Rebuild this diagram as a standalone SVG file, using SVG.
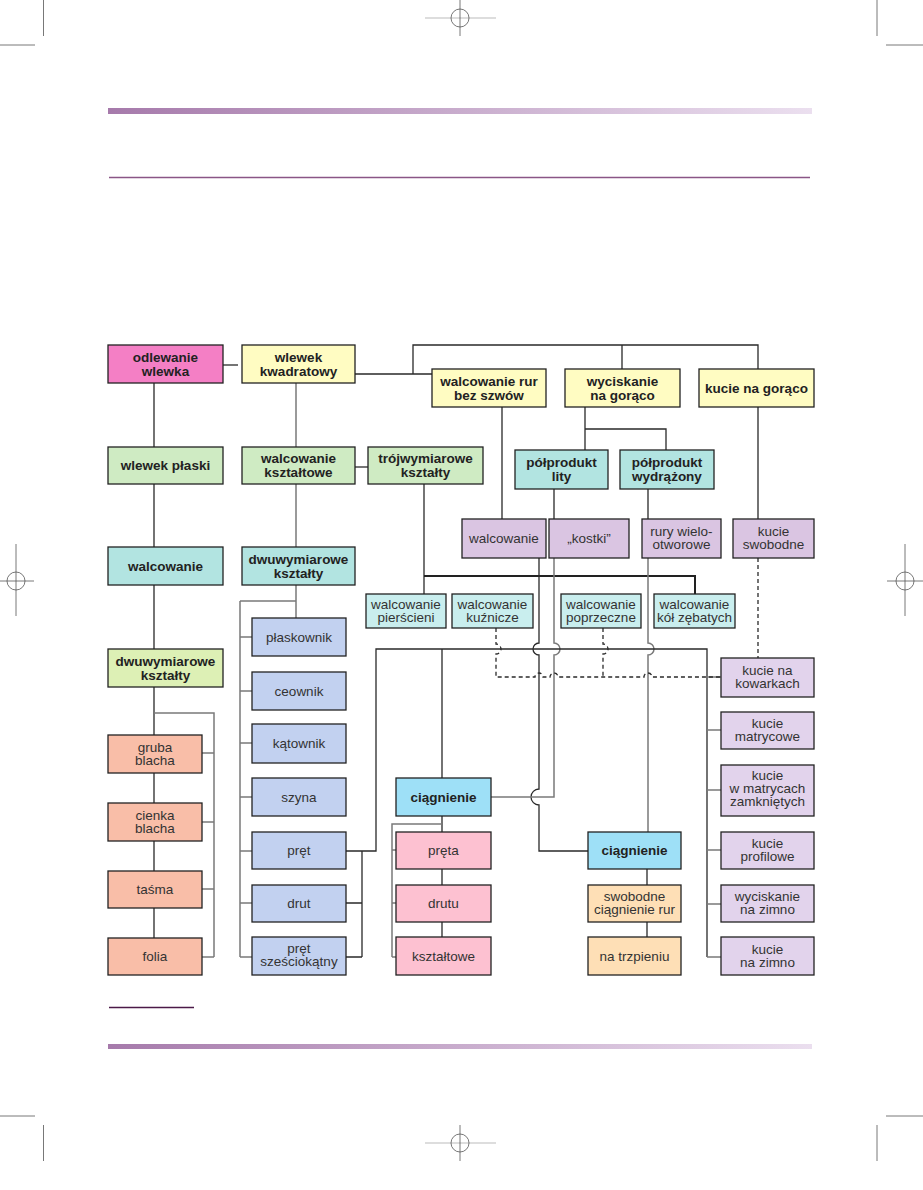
<svg xmlns="http://www.w3.org/2000/svg" width="923" height="1190" viewBox="0 0 923 1190">
<defs>
<linearGradient id="bar" x1="0" y1="0" x2="1" y2="0">
<stop offset="0" stop-color="#a67aab"/>
<stop offset="1" stop-color="#ebdfef"/>
</linearGradient>
<style>
.b{stroke:#222;stroke-width:1.3}
.tb{font-family:"Liberation Sans",Arial,sans-serif;font-weight:bold;font-size:13.5px;fill:#222;text-anchor:middle}
.tr{font-family:"Liberation Sans",Arial,sans-serif;font-size:13.5px;fill:#333;text-anchor:middle}
.c{fill:none;stroke:#2a2a2a;stroke-width:1.3}
.g{fill:none;stroke:#7a7a7a;stroke-width:1.5}
.d{fill:none;stroke:#2a2a2a;stroke-width:1.3;stroke-dasharray:4 3}
.m{fill:none;stroke:#555;stroke-width:0.8}
.pm{fill:#f47fc5}.ye{fill:#fffcc2}.gr{fill:#cfebc3}.yg{fill:#ddf0b5}.te{fill:#b2e4e1}
.pu{fill:#dac5e2}.kp{fill:#e2d3ec}.lt{fill:#c9eeee}.bl{fill:#c2d1f0}.sa{fill:#f9bea8}
.sk{fill:#9ee0f7}.pk{fill:#fdc1d1}.pe{fill:#fedfb6}
</style>
</defs>
<rect width="923" height="1190" fill="#fff"/>

<g id="decor">
<rect x="108" y="108" width="704" height="6" fill="url(#bar)"/>
<line x1="109" y1="177.5" x2="810" y2="177.5" stroke="#8a5686" stroke-width="1.3"/>
<line x1="109" y1="1007.5" x2="194" y2="1007.5" stroke="#4b1a48" stroke-width="1.3"/>
<rect x="108" y="1044" width="704" height="5" fill="url(#bar)"/>
<line class="m" x1="43.5" y1="0" x2="43.5" y2="36" stroke="#000"/>
<line class="m" x1="0" y1="45" x2="35" y2="45"/>
<line class="m" x1="877" y1="0" x2="877" y2="36"/>
<line class="m" x1="886" y1="45" x2="923" y2="45"/>
<line class="m" x1="43.5" y1="1125" x2="43.5" y2="1161"/>
<line class="m" x1="0" y1="1116" x2="35" y2="1116"/>
<line class="m" x1="877" y1="1125" x2="877" y2="1161"/>
<line class="m" x1="886" y1="1116" x2="923" y2="1116"/>
<line x1="425" y1="18" x2="496" y2="18" stroke="#ddd" stroke-width="2"/>
<line class="m" x1="460" y1="0" x2="460" y2="36"/>
<circle class="m" cx="460" cy="18" r="9"/>
<line x1="425" y1="1143" x2="496" y2="1143" stroke="#ddd" stroke-width="2"/>
<line class="m" x1="460" y1="1125" x2="460" y2="1161"/>
<circle class="m" cx="460" cy="1143" r="9"/>
<line class="m" x1="0" y1="581" x2="34" y2="581"/>
<line class="m" x1="16" y1="544" x2="16" y2="616"/>
<circle class="m" cx="16" cy="581" r="9"/>
<line class="m" x1="887" y1="581" x2="923" y2="581"/>
<line class="m" x1="905" y1="544" x2="905" y2="616"/>
<circle class="m" cx="905" cy="581" r="9"/>
</g>

<g id="connectors">
<path class="c" d="M223,365H238"/>
<path class="c" d="M154,383V447M154,484V547M154,585V649M154,687V735M154,773V803M154,841V871M154,908V938"/>
<path class="g" d="M154,713H214V957M202,753H214M202,822H214M202,889H214M202,957H214"/>
<path class="g" d="M296,383V447M296,484V547M296,585V618"/>
<path class="g" d="M240,601H296M240,601V957M240,637H252M240,691H252M240,743H252M240,797H252M240,851H252M240,903H252M240,957H252"/>
<path class="c" d="M355,467H368"/>
<path class="c" d="M355,374H432M413,374V345H758V369M622,345V369"/>
<path class="c" d="M585,407V450M585,429H666V450"/>
<path class="c" d="M502,407V519M758,407V519"/>
<path class="c" d="M424,484V594" />
<path fill="none" stroke="#222" stroke-width="2" d="M424,576H695V594"/>
<path class="c" d="M554,489V519M648,489V519"/>
<path class="c" d="M539,558V643A6,6 0 0 0 539,655V789A8,8 0 0 0 539,805V851H588"/>
<path class="g" d="M554,558V643A6,6 0 0 1 554,655V797H491"/>
<path class="g" d="M648,558V643A6,6 0 0 1 648,655V832"/>
<path class="c" d="M346,851H376V649H707V957M442,649V778"/>
<path class="g" d="M707,677H721M707,730H721M707,790H721M707,850H721M707,904H721M707,957H721"/>
<path class="c" d="M346,903H362M346,957H362M362,851V957"/>
<path class="c" d="M442,816V832M442,869V885M442,922V937"/>
<path class="g" d="M442,824H392V957M392,850H396M392,903H396M392,957H396"/>
<path class="c" d="M647,869V885M647,922V937"/>
<path class="d" d="M758,558V658"/>
<path class="d" d="M496,628V644A5,5 0 0 1 496,654V677H535A4,4 0 0 1 543,677H550A4,4 0 0 1 558,677H644A4,4 0 0 1 652,677H721"/>
<path class="d" d="M603,628V644A5,5 0 0 1 603,654V677"/>
</g>

<g id="odlewanie"><rect class="b pm" x="108" y="345" width="115" height="38"/><text class="tb" x="165.5" y="361.5">odlewanie<tspan x="165.5" dy="14">wlewka</tspan></text></g>
<g id="kwadratowy"><rect class="b ye" x="242" y="345" width="113" height="38"/><text class="tb" x="298.5" y="361.5">wlewek<tspan x="298.5" dy="14">kwadratowy</tspan></text></g>
<g id="rur"><rect class="b ye" x="432" y="369" width="114" height="38"/><text class="tb" x="489" y="385.5">walcowanie rur<tspan x="489" dy="14">bez szwów</tspan></text></g>
<g id="wyciskanie-goraco"><rect class="b ye" x="565" y="369" width="115" height="38"/><text class="tb" x="622.5" y="385.5">wyciskanie<tspan x="622.5" dy="14">na gorąco</tspan></text></g>
<g id="kucie-goraco"><rect class="b ye" x="699" y="369" width="115" height="38"/><text class="tb" x="756.5" y="392.5">kucie na gorąco</text></g>
<g id="wlewek-plaski"><rect class="b gr" x="108" y="447" width="115" height="37"/><text class="tb" x="165.5" y="470">wlewek płaski</text></g>
<g id="walc-ksztaltowe"><rect class="b gr" x="242" y="447" width="113" height="37"/><text class="tb" x="298.5" y="463">walcowanie<tspan x="298.5" dy="14">kształtowe</tspan></text></g>
<g id="trojwymiarowe"><rect class="b gr" x="368" y="447" width="115" height="37"/><text class="tb" x="425.5" y="463">trójwymiarowe<tspan x="425.5" dy="14">kształty</tspan></text></g>
<g id="lity"><rect class="b te" x="515" y="450" width="93" height="39"/><text class="tb" x="561.5" y="467">półprodukt<tspan x="561.5" dy="14">lity</tspan></text></g>
<g id="wydrazony"><rect class="b te" x="620" y="450" width="94" height="39"/><text class="tb" x="667" y="467">półprodukt<tspan x="667" dy="14">wydrążony</tspan></text></g>
<g id="walcowanie-teal"><rect class="b te" x="108" y="547" width="115" height="38"/><text class="tb" x="165.5" y="570.5">walcowanie</text></g>
<g id="dwuwym-teal"><rect class="b te" x="242" y="547" width="113" height="38"/><text class="tb" x="298.5" y="563.5">dwuwymiarowe<tspan x="298.5" dy="14">kształty</tspan></text></g>
<g id="walcowanie-rury"><rect class="b pu" x="462" y="519" width="84" height="39"/><text class="tr" x="504" y="543">walcowanie</text></g>
<g id="kostki"><rect class="b pu" x="549" y="519" width="80" height="39"/><text class="tr" x="589" y="543">„kostki”</text></g>
<g id="rury-wielo"><rect class="b pu" x="642" y="519" width="79" height="39"/><text class="tr" x="681.5" y="536">rury wielo-<tspan x="681.5" dy="13">otworowe</tspan></text></g>
<g id="kucie-swobodne"><rect class="b pu" x="733" y="519" width="81" height="39"/><text class="tr" x="773.5" y="536">kucie<tspan x="773.5" dy="13">swobodne</tspan></text></g>
<g id="pierscieni"><rect class="b lt" x="366" y="594" width="80" height="34"/><text class="tr" x="406" y="609">walcowanie<tspan x="406" dy="13">pierścieni</tspan></text></g>
<g id="kuznicze"><rect class="b lt" x="452" y="594" width="81" height="34"/><text class="tr" x="492.5" y="609">walcowanie<tspan x="492.5" dy="13">kuźnicze</tspan></text></g>
<g id="poprzeczne"><rect class="b lt" x="561" y="594" width="80" height="34"/><text class="tr" x="601" y="609">walcowanie<tspan x="601" dy="13">poprzeczne</tspan></text></g>
<g id="zebatych"><rect class="b lt" x="654" y="594" width="81" height="34"/><text class="tr" x="694.5" y="609">walcowanie<tspan x="694.5" dy="13">kół zębatych</tspan></text></g>
<g id="dwuwym-green"><rect class="b yg" x="108" y="649" width="115" height="38"/><text class="tb" x="165.5" y="665.5">dwuwymiarowe<tspan x="165.5" dy="14">kształty</tspan></text></g>
<g id="plaskownik"><rect class="b bl" x="252" y="618" width="94" height="38"/><text class="tr" x="299" y="641.5">płaskownik</text></g>
<g id="ceownik"><rect class="b bl" x="252" y="672" width="94" height="38"/><text class="tr" x="299" y="695.5">ceownik</text></g>
<g id="katownik"><rect class="b bl" x="252" y="724" width="94" height="39"/><text class="tr" x="299" y="748">kątownik</text></g>
<g id="szyna"><rect class="b bl" x="252" y="778" width="94" height="38"/><text class="tr" x="299" y="801.5">szyna</text></g>
<g id="pret"><rect class="b bl" x="252" y="832" width="94" height="37"/><text class="tr" x="299" y="855">pręt</text></g>
<g id="drut"><rect class="b bl" x="252" y="885" width="94" height="37"/><text class="tr" x="299" y="908">drut</text></g>
<g id="pret-szesciokatny"><rect class="b bl" x="252" y="937" width="94" height="38"/><text class="tr" x="299" y="953">pręt<tspan x="299" dy="13">sześciokątny</tspan></text></g>
<g id="gruba"><rect class="b sa" x="108" y="735" width="94" height="38"/><text class="tr" x="155" y="751.5">gruba<tspan x="155" dy="13">blacha</tspan></text></g>
<g id="cienka"><rect class="b sa" x="108" y="803" width="94" height="38"/><text class="tr" x="155" y="819.5">cienka<tspan x="155" dy="13">blacha</tspan></text></g>
<g id="tasma"><rect class="b sa" x="108" y="871" width="94" height="37"/><text class="tr" x="155" y="894">taśma</text></g>
<g id="folia"><rect class="b sa" x="108" y="938" width="94" height="37"/><text class="tr" x="155" y="961">folia</text></g>
<g id="kowarkach"><rect class="b kp" x="721" y="658" width="93" height="39"/><text class="tr" x="767.5" y="675">kucie na<tspan x="767.5" dy="13">kowarkach</tspan></text></g>
<g id="matrycowe"><rect class="b kp" x="721" y="712" width="93" height="37"/><text class="tr" x="767.5" y="728">kucie<tspan x="767.5" dy="13">matrycowe</tspan></text></g>
<g id="zamknietych"><rect class="b kp" x="721" y="765" width="93" height="51"/><text class="tr" x="767.5" y="779.5">kucie<tspan x="767.5" dy="13">w matrycach</tspan><tspan x="767.5" dy="13">zamkniętych</tspan></text></g>
<g id="profilowe"><rect class="b kp" x="721" y="832" width="93" height="37"/><text class="tr" x="767.5" y="848">kucie<tspan x="767.5" dy="13">profilowe</tspan></text></g>
<g id="wyciskanie-zimno"><rect class="b kp" x="721" y="885" width="93" height="37"/><text class="tr" x="767.5" y="901">wyciskanie<tspan x="767.5" dy="13">na zimno</tspan></text></g>
<g id="kucie-zimno"><rect class="b kp" x="721" y="937" width="93" height="38"/><text class="tr" x="767.5" y="953.5">kucie<tspan x="767.5" dy="13">na zimno</tspan></text></g>
<g id="ciagnienie-l"><rect class="b sk" x="396" y="778" width="95" height="38"/><text class="tb" x="443.5" y="801.5">ciągnienie</text></g>
<g id="preta"><rect class="b pk" x="396" y="832" width="95" height="37"/><text class="tr" x="443.5" y="855">pręta</text></g>
<g id="drutu"><rect class="b pk" x="396" y="885" width="95" height="37"/><text class="tr" x="443.5" y="908">drutu</text></g>
<g id="ksztaltowe"><rect class="b pk" x="396" y="937" width="95" height="38"/><text class="tr" x="443.5" y="960.5">kształtowe</text></g>
<g id="ciagnienie-r"><rect class="b sk" x="588" y="832" width="93" height="37"/><text class="tb" x="634.5" y="855">ciągnienie</text></g>
<g id="swobodne"><rect class="b pe" x="588" y="885" width="93" height="37"/><text class="tr" x="634.5" y="901">swobodne<tspan x="634.5" dy="13">ciągnienie rur</tspan></text></g>
<g id="trzpieniu"><rect class="b pe" x="588" y="937" width="93" height="38"/><text class="tr" x="634.5" y="960.5">na trzpieniu</text></g>
</svg>
